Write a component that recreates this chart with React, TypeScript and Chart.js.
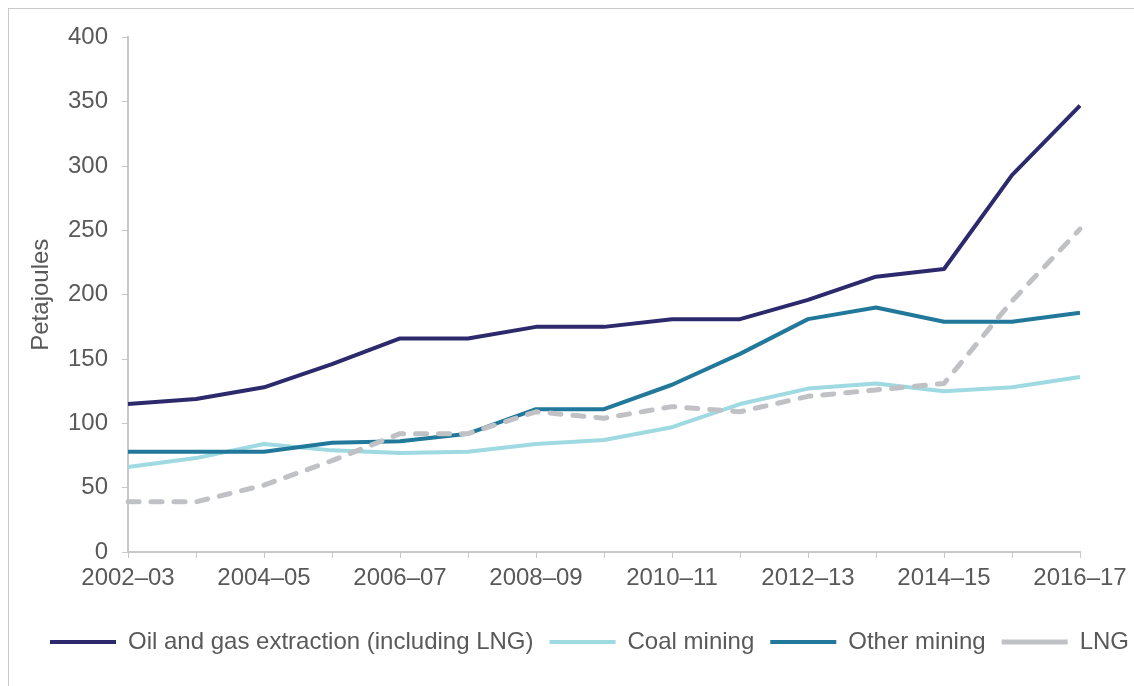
import React, { useEffect, useRef } from "react";
import { Chart, registerables } from "chart.js";

Chart.register(...registerables);

const years = [
  "2002–03", "2003–04", "2004–05", "2005–06", "2006–07", "2007–08", "2008–09", "2009–10",
  "2010–11", "2011–12", "2012–13", "2013–14", "2014–15", "2015–16", "2016–17",
];

// Petajoules by sub-sector
const oilAndGas = [115, 119, 128, 146, 166, 166, 175, 175, 181, 181, 196, 214, 220, 293, 347];
const coalMining = [66, 73, 84, 79, 77, 78, 84, 87, 97, 115, 127, 131, 125, 128, 136];
const otherMining = [78, 78, 78, 85, 86, 92, 111, 111, 130, 154, 181, 190, 179, 179, 186];
const lng = [39, 39, 52, 71, 92, 92, 109, 104, 113, 109, 121, 126, 131, 195, 251];

const yTicks = [0, 50, 100, 150, 200, 250, 300, 350, 400];

const FONT = "'Liberation Sans', Arial, sans-serif";
const TEXT = "#595959";
const AXIS = "#c8c8c8";

// Nudges the legend row to the right of the canvas centre
const legendShift = {
  id: "legendShift",
  afterLayout(chart: any) {
    const lg = chart.legend;
    if (!lg) return;
    lg.left += 18;
    lg.right += 18;
  },
};

export default function App() {
  const canvasRef = useRef<HTMLCanvasElement | null>(null);

  useEffect(() => {
    if (!canvasRef.current) return;
    const chart = new Chart(canvasRef.current, {
      type: "line",
      data: {
        labels: years,
        datasets: [
          {
            label: "Oil and gas extraction (including LNG)",
            data: oilAndGas,
            borderColor: "#2c2a6c",
            backgroundColor: "#2c2a6c",
            borderWidth: 4,
            order: 1,
          },
          {
            label: "Coal mining",
            data: coalMining,
            borderColor: "#9fd9e1",
            backgroundColor: "#9fd9e1",
            borderWidth: 4,
            order: 3,
          },
          {
            label: "Other mining",
            data: otherMining,
            borderColor: "#21789b",
            backgroundColor: "#21789b",
            borderWidth: 4,
            order: 2,
          },
          {
            label: "LNG",
            data: lng,
            borderColor: "#bfc1c4",
            backgroundColor: "#bfc1c4",
            borderWidth: 5,
            borderDash: [11, 12],
            borderCapStyle: "round",
            order: 0,
          },
        ],
      },
      options: {
        animation: false,
        responsive: true,
        maintainAspectRatio: false,
        layout: { padding: { top: 24, right: 0, bottom: 22, left: 0 } },
        elements: {
          point: { radius: 0, hoverRadius: 0 },
          line: { tension: 0, borderJoinStyle: "round" },
        },
        plugins: {
          tooltip: { enabled: false },
          legend: {
            position: "bottom",
            align: "center",
            labels: {
              font: { family: FONT, size: 24 },
              color: TEXT,
              usePointStyle: true,
              pointStyle: "line",
              pointStyleWidth: 66,
              padding: 16,
              sort: (a: any, b: any) => a.datasetIndex - b.datasetIndex,
            },
          },
        },
        scales: {
          x: {
            type: "category",
            offset: false,
            grid: {
              drawOnChartArea: false,
              drawTicks: true,
              tickLength: 6,
              tickColor: AXIS,
            },
            border: { color: AXIS, width: 2 },
            ticks: {
              autoSkip: false,
              maxRotation: 0,
              padding: 6,
              color: TEXT,
              font: { family: FONT, size: 24 },
              callback: (_v: any, i: number) => (i % 2 === 0 ? years[i] : ""),
            },
            afterFit: (scale: any) => {
              scale.height = 62;
              scale.paddingRight = 54;
            },
          },
          y: {
            min: 0,
            max: 400,
            afterBuildTicks: (scale: any) => {
              scale.ticks = yTicks.map((v) => ({ value: v }));
            },
            grid: {
              drawOnChartArea: false,
              drawTicks: true,
              tickLength: 6,
              tickColor: AXIS,
            },
            border: { color: AXIS, width: 2 },
            ticks: {
              padding: 14,
              color: TEXT,
              font: { family: FONT, size: 24 },
            },
            title: {
              display: true,
              text: "Petajoules",
              color: TEXT,
              font: { family: FONT, size: 24 },
              padding: { top: 18, bottom: 0 },
            },
            afterFit: (scale: any) => {
              scale.width = 119;
            },
          },
        },
      },
      plugins: [legendShift],
    });
    return () => chart.destroy();
  }, []);

  return (
    <div
      style={{
        position: "absolute",
        left: 8,
        top: 8,
        width: 1126,
        height: 678,
        boxSizing: "border-box",
        borderTop: "1px solid #c9c9c9",
        borderLeft: "1px solid #c9c9c9",
        background: "#ffffff",
      }}
    >
      <div style={{ position: "relative", width: "100%", height: "100%" }}>
        <canvas ref={canvasRef} />
      </div>
    </div>
  );
}
